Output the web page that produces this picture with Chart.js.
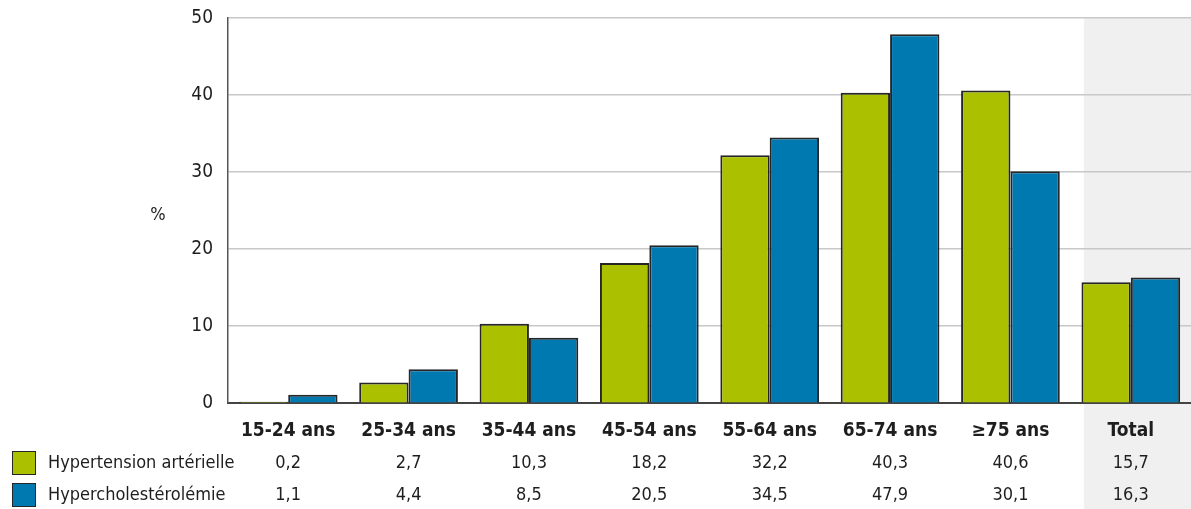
<!DOCTYPE html>
<html>
<head>
<meta charset="utf-8">
<script src="https://cdn.jsdelivr.net/npm/chart.js@4/dist/chart.umd.min.js"></script>
<style>
  html, body { margin: 0; padding: 0; background: #fff; }
  #wrap { width: 1191px; height: 509px; position: relative; }
</style>
</head>
<body>
<div id="wrap"><canvas id="chart"></canvas></div>
<script>
const categories = ['15-24 ans', '25-34 ans', '35-44 ans', '45-54 ans', '55-64 ans', '65-74 ans', '≥75 ans', 'Total'];
const hypertension = [0.2, 2.7, 10.3, 18.2, 32.2, 40.3, 40.6, 15.7];
const hypercholesterol = [1.1, 4.4, 8.5, 20.5, 34.5, 47.9, 30.1, 16.3];
const seriesNames = ['Hypertension artérielle', 'Hypercholestérolémie'];
const yTicks = [0, 10, 20, 30, 40, 50];

const colors = {
  green: '#abc100',
  blue: '#0078b0',
  border: '#262626',
  text: '#1e1e1e',
  grid: '#c8c8c8',
  shade: '#f0f0f0'
};
const fontFamily = "'Liberation Sans Narrow', 'DejaVu Sans Condensed', 'Arial Narrow', sans-serif";

function fmt(v) {
  return v.toFixed(1).replace('.', ',');
}

// grey band behind the "Total" column, running down through the table
const shadePlugin = {
  id: 'shade',
  beforeDraw(chart) {
    const x = chart.scales.x;
    const { ctx, chartArea } = chart;
    const half = (x.getPixelForValue(1) - x.getPixelForValue(0)) / 2;
    const left = x.getPixelForValue(categories.length - 1) - half * 0.78;
    ctx.save();
    ctx.fillStyle = colors.shade;
    ctx.fillRect(left, chartArea.top, chart.width - left, chart.height - chartArea.top);
    ctx.restore();
  }
};

// data table under the x axis plus the "%" label
const tablePlugin = {
  id: 'table',
  afterDraw(chart) {
    const { ctx } = chart;
    const x = chart.scales.x;
    const rows = [
      { name: seriesNames[0], values: hypertension, color: colors.green, y: 463 },
      { name: seriesNames[1], values: hypercholesterol, color: colors.blue, y: 495 }
    ];
    ctx.save();
    ctx.font = `18px ${fontFamily}`;
    ctx.fillStyle = colors.text;
    ctx.textBaseline = 'middle';
    ctx.textAlign = 'center';
    ctx.fillText('%', 158, 215);
    rows.forEach(r => {
      ctx.fillStyle = r.color;
      ctx.fillRect(12, r.y - 12, 24, 24);
      ctx.strokeStyle = colors.border;
      ctx.lineWidth = 1;
      ctx.strokeRect(12.5, r.y - 11.5, 23, 23);
      ctx.fillStyle = colors.text;
      ctx.textAlign = 'left';
      ctx.fillText(r.name, 48, r.y);
      ctx.textAlign = 'center';
      r.values.forEach((v, i) => {
        ctx.fillText(fmt(v), x.getPixelForValue(i), r.y);
      });
    });
    ctx.restore();
  }
};

new Chart(document.getElementById('chart'), {
  type: 'bar',
  data: {
    labels: categories,
    datasets: [
      {
        label: seriesNames[0],
        data: hypertension,
        backgroundColor: colors.green,
        borderColor: colors.border,
        borderWidth: 2,
        borderSkipped: 'bottom'
      },
      {
        label: seriesNames[1],
        data: hypercholesterol,
        backgroundColor: colors.blue,
        borderColor: colors.border,
        borderWidth: 2,
        borderSkipped: 'bottom'
      }
    ]
  },
  options: {
    responsive: true,
    maintainAspectRatio: false,
    animation: false,
    layout: { padding: { top: 18, right: 0, bottom: 51, left: 0 } },
    barPercentage: 1,
    categoryPercentage: 0.82,
    plugins: {
      legend: { display: false },
      tooltip: { enabled: false }
    },
    scales: {
      x: {
        grid: { display: false, drawTicks: false },
        border: { display: true, color: '#444', width: 2 },
        ticks: {
          color: colors.text,
          padding: 16,
          font: { family: fontFamily, size: 19, weight: 'bold' }
        }
      },
      y: {
        min: 0,
        max: 50,
        afterFit(scale) {
          scale.width = 228;
          scale.paddingTop = 0;
          scale.paddingBottom = 0;
        },
        afterBuildTicks(scale) { scale.ticks = yTicks.map(v => ({ value: v })); },
        grid: { color: colors.grid, lineWidth: 1.5, drawTicks: false },
        border: { display: true, color: '#555', width: 1.5 },
        ticks: {
          color: colors.text,
          padding: 15,
          font: { family: fontFamily, size: 19 }
        }
      }
    }
  },
  plugins: [shadePlugin, tablePlugin]
});
</script>
</body>
</html>
